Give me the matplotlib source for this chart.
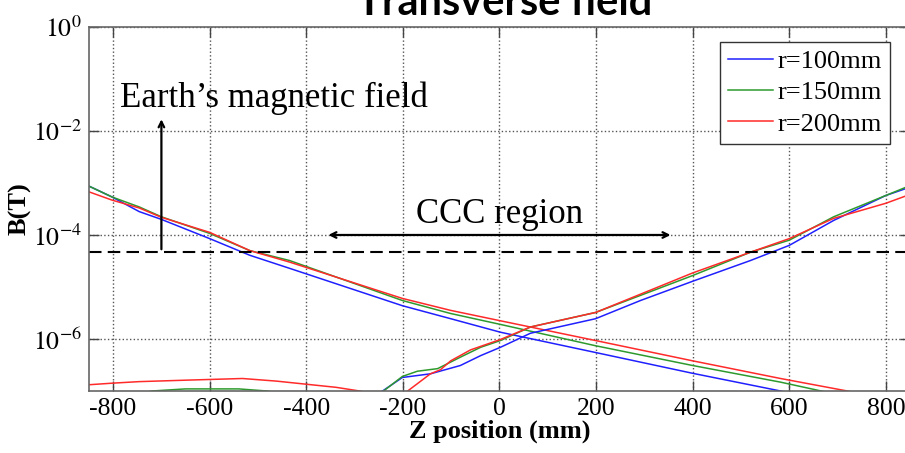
import numpy as np
import matplotlib
matplotlib.use('Agg')
from matplotlib import pyplot as plt

plt.rcParams['font.family'] = ['Liberation Serif', 'DejaVu Serif']
plt.rcParams['mathtext.fontset'] = 'stix'

# B field, stored as log10(B / T)
# r = 100 mm
z100_down = [-850, -802, -746, -700, -600, -517, -435, -201, -101, 2, 199, 400, 582, 600]
b100_down = [-3.06, -3.27, -3.55, -3.70, -4.07, -4.39, -4.64, -5.36, -5.61, -5.87, -6.26, -6.66, -7.0, -7.04]
z100_up = [-250, -242, -201, -143, -81, -39, 2, 64, 199, 292, 400, 520, 600, 692, 800, 850]
b100_up = [-7.04, -7.0, -6.74, -6.67, -6.51, -6.32, -6.16, -5.89, -5.61, -5.26, -4.89, -4.49, -4.20, -3.72, -3.24, -3.08]
# r = 150 mm
z150_down = [-850, -802, -746, -700, -600, -517, -435, -201, -101, 2, 199, 400, 582, 666, 680]
b150_down = [-3.06, -3.27, -3.46, -3.65, -3.97, -4.30, -4.49, -5.26, -5.51, -5.72, -6.13, -6.51, -6.83, -7.0, -7.03]
z150_up = [-248, -240, -201, -170, -128, -81, -39, 2, 64, 199, 400, 520, 600, 692, 800, 850]
b150_up = [-7.04, -7.0, -6.72, -6.62, -6.57, -6.35, -6.16, -6.03, -5.77, -5.49, -4.78, -4.33, -4.10, -3.65, -3.24, -3.05]
z150_low = [-730, -719, -650, -600, -540, -482, -470]
b150_low = [-7.02, -7.0, -6.96, -6.96, -6.96, -7.0, -7.02]
# r = 200 mm
z200_down = [-850, -802, -746, -700, -600, -517, -435, -201, -101, 2, 199, 400, 582, 720, 735]
b200_down = [-3.17, -3.33, -3.48, -3.66, -3.95, -4.30, -4.52, -5.22, -5.45, -5.65, -6.03, -6.42, -6.76, -7.0, -7.03]
z200_up = [-198, -190, -143, -122, -101, -60, 2, 64, 199, 400, 520, 600, 692, 800, 850]
b200_up = [-7.04, -7.0, -6.67, -6.59, -6.42, -6.21, -6.01, -5.77, -5.49, -4.73, -4.33, -4.07, -3.68, -3.39, -3.22]
z200_low = [-850, -802, -746, -642, -532, -462, -400, -338, -290, -280]
b200_low = [-6.88, -6.85, -6.82, -6.79, -6.76, -6.81, -6.87, -6.93, -7.0, -7.02]

earth_field = 4.7e-5
x_ticks = [-800, -600, -400, -200, 0, 200, 400, 600, 800]
y_ticks = [1e0, 1e-2, 1e-4, 1e-6]
y_tick_labels = [r'$10^{0}$', r'$10^{-2}$', r'$10^{-4}$', r'$10^{-6}$']

blue = '#2020ff'
green = '#2e9a2e'
red = '#ff2a2a'

fig = plt.figure(figsize=(9.05, 4.53), dpi=100)
ax = fig.add_axes([0.0983, 0.1369, 0.9072, 0.8035])

lw = 1.1
ax.plot(z100_down, np.power(10.0, b100_down), color=blue, lw=lw, label='r=100mm')
ax.plot(z150_down, np.power(10.0, b150_down), color=green, lw=lw, label='r=150mm')
ax.plot(z200_down, np.power(10.0, b200_down), color=red, lw=lw, label='r=200mm')
ax.plot(z100_up, np.power(10.0, b100_up), color=blue, lw=lw)
ax.plot(z150_up, np.power(10.0, b150_up), color=green, lw=lw)
ax.plot(z200_up, np.power(10.0, b200_up), color=red, lw=lw)
ax.plot(z150_low, np.power(10.0, b150_low), color=green, lw=lw)
ax.plot(z200_low, np.power(10.0, b200_low), color=red, lw=lw)

ax.axhline(earth_field, color='black', lw=1.5, dashes=(6, 3))

ax.set_yscale('log')
ax.set_xlim(-850, 850)
ax.set_ylim(1e-7, 1e0)
ax.set_xticks(x_ticks)
ax.set_xticklabels([str(v) for v in x_ticks])
ax.set_yticks(y_ticks)
ax.set_yticklabels(y_tick_labels)
ax.yaxis.set_minor_locator(matplotlib.ticker.NullLocator())
ax.tick_params(direction='in', length=7, width=1, color='#444444',
               labelsize=18.5, top=True, right=True, pad=5)
ax.grid(True, which='major', color='#555555', linestyle=':', lw=1)
for s in ax.spines.values():
    s.set_color('#666666')
    s.set_linewidth(1.2)

ax.set_xlabel('Z position (mm)', fontsize=19, fontweight='bold', labelpad=0)
ax.set_ylabel('B(T)', fontsize=19, fontweight='bold', labelpad=1)

# annotations
ax.annotate('', xy=(-700, 1.9e-2), xytext=(-700, earth_field),
            arrowprops=dict(arrowstyle='->', color='black', lw=1.6))
ax.text(-785, 10 ** -1.54, 'Earth\u2019s magnetic field', fontsize=25, va='baseline')
ax.annotate('', xy=(-360, 1e-4), xytext=(360, 1e-4),
            arrowprops=dict(arrowstyle='<->', color='black', lw=1.6))
ax.text(0, 10 ** -3.76, 'CCC region', fontsize=25, ha='center', va='baseline')

leg = ax.legend(loc='upper right', bbox_to_anchor=(0.976, 0.96), fontsize=19,
                handlelength=1.7, handletextpad=0.2, labelspacing=0.3,
                borderpad=0.3, borderaxespad=0.0, fancybox=False, framealpha=1)
leg.get_frame().set_edgecolor('#333333')
leg.get_frame().set_linewidth(1.0)

fig.text(0.558, 0.967, 'Transverse field', ha='center', va='baseline',
         fontsize=30, fontweight='bold', family=['Lato', 'DejaVu Sans'])

fig.savefig('out.png', dpi=100)
